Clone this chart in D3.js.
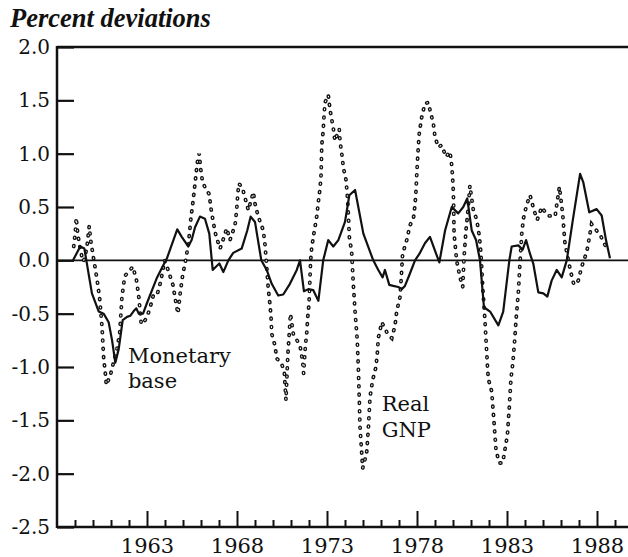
<!DOCTYPE html>
<html>
<head>
<meta charset="utf-8">
<script src="https://cdn.jsdelivr.net/npm/d3@7"></script>
<style>
  body { margin: 0; background: #fff; }
  text { font-family: "DejaVu Serif", serif; fill: #111; }
</style>
</head>
<body>
<div id="chart"></div>
<script>
// Monetary base (solid line), percent deviations
var mbYears = [1958.89, 1959.29, 1959.52, 1959.63, 1959.94, 1960.32, 1960.59, 1960.87, 1961.06, 1961.24,
    1961.43, 1961.52, 1961.65, 1961.89, 1962.07, 1962.29, 1962.41, 1962.54, 1962.78, 1963.0,
    1963.28, 1963.56, 1963.89, 1964.11, 1964.68, 1964.93, 1965.29, 1965.48, 1965.67, 1965.94,
    1966.22, 1966.46, 1966.65, 1966.83, 1967.02, 1967.24, 1967.52, 1967.79, 1968.26, 1968.57,
    1968.76, 1969.0, 1969.35, 1969.65, 1969.93, 1970.29, 1970.57, 1970.94, 1971.32, 1971.5,
    1971.72, 1971.96, 1972.24, 1972.52, 1972.79, 1973.07, 1973.35, 1973.63, 1974.0, 1974.24,
    1974.56, 1975.02, 1975.57, 1975.85, 1976.09, 1976.22, 1976.46, 1976.68, 1976.96, 1977.15,
    1977.33, 1977.57, 1977.89, 1978.13, 1978.44, 1978.72, 1979.24, 1979.56, 1979.93, 1980.29,
    1980.57, 1980.79, 1981.04, 1981.28, 1981.5, 1981.72, 1982.06, 1982.52, 1982.79, 1983.13,
    1983.26, 1983.63, 1983.87, 1984.06, 1984.28, 1984.46, 1984.74, 1985.02, 1985.24, 1985.48,
    1985.76, 1986.04, 1986.32, 1986.65, 1987.06, 1987.24, 1987.57, 1987.98, 1988.26, 1988.5,
    1988.72];
var mbValues = [0.0, 0.13, 0.11, 0.0, -0.31, -0.48, -0.5, -0.58, -0.75, -0.96,
    -0.83, -0.72, -0.56, -0.53, -0.52, -0.47, -0.45, -0.5, -0.5, -0.4,
    -0.28, -0.16, -0.05, 0.02, 0.29, 0.22, 0.13, 0.19, 0.31, 0.41,
    0.39, 0.25, -0.09, -0.06, -0.03, -0.11, 0.0, 0.07, 0.11, 0.28,
    0.41, 0.36, 0.0, -0.09, -0.22, -0.33, -0.32, -0.22, -0.09, 0.0,
    -0.29, -0.27, -0.28, -0.38, 0.0, 0.19, 0.13, 0.19, 0.36, 0.61,
    0.66, 0.25, 0.0, -0.09, -0.16, -0.09, -0.23, -0.24, -0.25, -0.27,
    -0.24, -0.14, 0.0, 0.06, 0.16, 0.22, -0.02, 0.28, 0.5, 0.44,
    0.5, 0.58, 0.28, 0.19, 0.0, -0.44, -0.48, -0.61, -0.48, 0.0,
    0.13, 0.14, 0.1, 0.19, 0.06, -0.03, -0.3, -0.31, -0.34, -0.19,
    -0.09, -0.16, 0.0, 0.37, 0.81, 0.73, 0.45, 0.48, 0.42, 0.19,
    0.02];

// Real GNP (dotted line), percent deviations
var gnpYears = [1958.93, 1959.02, 1959.07, 1959.15, 1959.3, 1959.44, 1959.55, 1959.68, 1959.79, 1959.88,
    1960.0, 1960.13, 1960.26, 1960.37, 1960.5, 1960.59, 1960.68, 1960.74, 1960.96, 1961.15,
    1961.33, 1961.48, 1961.55, 1961.61, 1961.76, 1962.0, 1962.22, 1962.42, 1962.55, 1962.68,
    1962.9, 1963.13, 1963.35, 1963.55, 1963.76, 1963.98, 1964.17, 1964.44, 1964.58, 1964.72,
    1964.85, 1964.98, 1965.11, 1965.3, 1965.43, 1965.54, 1965.63, 1965.72, 1965.8, 1965.9,
    1965.98, 1966.09, 1966.3, 1966.46, 1966.54, 1966.68, 1966.83, 1967.06, 1967.24, 1967.43,
    1967.61, 1967.89, 1967.98, 1968.03, 1968.1, 1968.3, 1968.44, 1968.63, 1968.91, 1969.0,
    1969.18, 1969.46, 1969.56, 1969.65, 1969.74, 1969.83, 1969.89, 1969.93, 1970.11, 1970.21,
    1970.48, 1970.63, 1970.67, 1970.72, 1970.82, 1970.9, 1970.97, 1971.13, 1971.5, 1971.65,
    1971.7, 1971.8, 1971.87, 1971.93, 1972.0, 1972.09, 1972.15, 1972.29, 1972.43, 1972.52,
    1972.61, 1972.67, 1972.71, 1972.79, 1972.83, 1972.89, 1973.07, 1973.17, 1973.35, 1973.44,
    1973.68, 1973.72, 1973.82, 1973.91, 1974.06, 1974.15, 1974.2, 1974.24, 1974.37, 1974.46,
    1974.56, 1974.68, 1974.74, 1974.79, 1974.83, 1974.93, 1974.98, 1975.2, 1975.3, 1975.39,
    1975.54, 1975.72, 1975.8, 1975.85, 1976.04, 1976.4, 1976.6, 1976.78, 1976.87, 1977.06,
    1977.15, 1977.2, 1977.43, 1977.61, 1977.8, 1977.89, 1977.94, 1977.98, 1978.02, 1978.07,
    1978.13, 1978.26, 1978.44, 1978.63, 1978.72, 1978.91, 1979.0, 1979.18, 1979.37, 1979.61,
    1979.83, 1979.93, 1979.98, 1980.02, 1980.04, 1980.06, 1980.2, 1980.39, 1980.54, 1980.61,
    1980.72, 1980.85, 1980.94, 1981.13, 1981.32, 1981.46, 1981.54, 1981.59, 1981.65, 1981.72,
    1981.78, 1981.91, 1981.96, 1982.15, 1982.28, 1982.39, 1982.57, 1982.76, 1983.02, 1983.13,
    1983.22, 1983.32, 1983.44, 1983.5, 1983.63, 1983.72, 1983.82, 1983.91, 1984.09, 1984.28,
    1984.5, 1984.68, 1984.93, 1985.24, 1985.67, 1985.91, 1986.09, 1986.22, 1986.54, 1986.72,
    1986.96, 1987.15, 1987.43, 1987.57, 1987.7, 1988.2, 1988.54];
var gnpValues = [0.13, 0.27, 0.4, 0.25, 0.1, -0.01, 0.02, 0.15, 0.32, 0.18,
    0.05, -0.08, -0.22, -0.36, -0.62, -0.91, -1.05, -1.17, -1.08, -0.95,
    -0.83, -0.69, -0.5, -0.34, -0.15, -0.1, -0.06, -0.19, -0.35, -0.6,
    -0.56, -0.47, -0.33, -0.33, -0.2, 0.0, -0.09, -0.23, -0.37, -0.5,
    -0.3, -0.14, -0.03, 0.15, 0.38, 0.53, 0.66, 0.8, 0.92, 1.0,
    0.86, 0.73, 0.66, 0.62, 0.5, 0.36, 0.23, 0.11, 0.2, 0.3,
    0.19, 0.33, 0.47, 0.59, 0.72, 0.68, 0.59, 0.47, 0.64, 0.53,
    0.41, 0.28, 0.14, -0.06, -0.27, -0.41, -0.53, -0.69, -0.8, -0.92,
    -0.97, -1.05, -1.17, -1.31, -0.9, -0.69, -0.5, -0.69, -0.8, -0.95,
    -1.06, -0.8, -0.69, -0.53, -0.41, 0.0, 0.12, 0.27, 0.41, 0.55,
    0.67, 0.8, 1.08, 1.22, 1.34, 1.48, 1.55, 1.41, 1.24, 1.12,
    1.23, 1.12, 1.0, 0.87, 0.75, 0.56, 0.38, 0.22, 0.08, -0.22,
    -0.48, -0.75, -1.0, -1.28, -1.55, -1.81, -1.95, -1.81, -1.57, -1.28,
    -1.12, -1.0, -0.86, -0.73, -0.58, -0.7, -0.73, -0.61, -0.48, -0.34,
    -0.09, 0.06, 0.19, 0.33, 0.39, 0.52, 0.64, 0.78, 0.91, 1.06,
    1.2, 1.34, 1.47, 1.48, 1.41, 1.28, 1.16, 1.06, 1.08, 0.97,
    1.02, 0.89, 0.77, 0.64, 0.47, 0.25, 0.0, -0.16, -0.25, 0.02,
    0.28, 0.5, 0.7, 0.47, 0.38, 0.23, 0.09, -0.05, -0.25, -0.42,
    -0.58, -0.98, -1.11, -1.23, -1.52, -1.78, -1.9, -1.9, -1.64, -1.37,
    -1.11, -0.97, -0.72, -0.56, -0.3, -0.03, 0.25, 0.39, 0.52, 0.61,
    0.47, 0.38, 0.5, 0.42, 0.41, 0.69, 0.44, 0.16, -0.11, -0.23,
    -0.19, -0.06, 0.08, 0.21, 0.34, 0.23, 0.11];

var yTicks = [-2.5, -2.0, -1.5, -1.0, -0.5, 0.0, 0.5, 1.0, 1.5, 2.0];
var yearTicks = d3.range(1959, 1990);
var labelYears = [1963, 1968, 1973, 1978, 1983, 1988];

var W = 628, H = 557;
var plot = {left: 57, right: 628, top: 47, bottom: 527};

var scalex = d3.scaleLinear().domain([1958, 1958 + (plot.right - plot.left) / 18]).range([plot.left, plot.right]);
var scaley = d3.scaleLinear().domain([-2.5, 2.0]).range([plot.bottom, plot.top]);

var svg = d3.select("#chart").append("svg")
    .attr("width", W)
    .attr("height", H)
    .style("background", "#fff");

// title
svg.append("text")
    .attr("x", 10)
    .attr("y", 27)
    .style("font-family", "'Liberation Serif', serif")
    .style("font-weight", "bold")
    .style("font-style", "italic")
    .style("font-size", "26.5px")
    .text("Percent deviations");

// y axis ticks and labels (ticks point inward)
var yAxis = svg.append("g")
    .attr("transform", "translate(" + plot.left + ",0)")
    .call(d3.axisLeft(scaley)
        .tickValues(yTicks)
        .tickSize(-17)
        .tickSizeOuter(0)
        .tickPadding(7)
        .tickFormat(function (d) { return d.toFixed(1); }));
yAxis.select(".domain").remove();
yAxis.selectAll("line").attr("stroke", "#111").attr("stroke-width", 2.2);
yAxis.selectAll("text").style("font-size", "20px").attr("fill", "#111");

// x axis: minor year ticks, taller ticks every 5 years
var xMinor = svg.append("g")
    .attr("transform", "translate(0," + plot.bottom + ")")
    .call(d3.axisBottom(scalex)
        .tickValues(yearTicks.filter(function (d) { return labelYears.indexOf(d) < 0; }))
        .tickSize(-7)
        .tickSizeOuter(0)
        .tickFormat(""));
xMinor.select(".domain").remove();
xMinor.selectAll("line").attr("stroke", "#111").attr("stroke-width", 2);

var xMajor = svg.append("g")
    .attr("transform", "translate(0," + plot.bottom + ")")
    .call(d3.axisBottom(scalex)
        .tickValues(labelYears)
        .tickSize(-16)
        .tickSizeOuter(0)
        .tickFormat(d3.format("d")));
xMajor.select(".domain").remove();
xMajor.selectAll("line").attr("stroke", "#111").attr("stroke-width", 2);
xMajor.selectAll("text")
    .attr("y", 26)
    .attr("dy", 0)
    .style("font-size", "21px")
    .attr("fill", "#111");

// frame lines: left axis, top line, bottom axis, zero line
svg.append("line")
    .attr("x1", plot.left).attr("x2", plot.left)
    .attr("y1", scaley(2.0) - 1).attr("y2", scaley(-2.5) + 1)
    .attr("stroke", "#111").attr("stroke-width", 2.5);
svg.append("line")
    .attr("x1", plot.left).attr("x2", plot.right)
    .attr("y1", scaley(2.0)).attr("y2", scaley(2.0))
    .attr("stroke", "#111").attr("stroke-width", 2.5);
svg.append("line")
    .attr("x1", plot.left).attr("x2", plot.right)
    .attr("y1", scaley(-2.5)).attr("y2", scaley(-2.5))
    .attr("stroke", "#111").attr("stroke-width", 2.5);
svg.append("line")
    .attr("x1", plot.left).attr("x2", plot.right)
    .attr("y1", scaley(0)).attr("y2", scaley(0))
    .attr("stroke", "#111").attr("stroke-width", 1.6);

var mbData = mbYears.map(function (t, i) { return {t: t, v: mbValues[i]}; });
var gnpData = gnpYears.map(function (t, i) { return {t: t, v: gnpValues[i]}; });

var valueline = d3.line()
    .x(function (d) { return scalex(d.t); })
    .y(function (d) { return scaley(d.v); });

// Real GNP: small hollow dots along the path
svg.append("path")
    .datum(gnpData)
    .attr("d", valueline)
    .attr("fill", "none")
    .attr("stroke", "#111")
    .attr("stroke-width", 3.8)
    .attr("stroke-linecap", "round")
    .attr("stroke-dasharray", "0.8 7.5");
svg.append("path")
    .datum(gnpData)
    .attr("d", valueline)
    .attr("fill", "none")
    .attr("stroke", "#fff")
    .attr("stroke-width", 1.1)
    .attr("stroke-linecap", "round")
    .attr("stroke-dasharray", "0.8 7.5");

// Monetary base: solid line
svg.append("path")
    .datum(mbData)
    .attr("d", valueline)
    .attr("fill", "none")
    .attr("stroke", "#111")
    .attr("stroke-width", 2.2)
    .attr("stroke-linejoin", "round");

// series labels
var labels = [
    {text: "Monetary", t: 1961.94, v: -0.96},
    {text: "base", t: 1961.94, v: -1.2},
    {text: "Real", t: 1976.04, v: -1.41},
    {text: "GNP", t: 1976.04, v: -1.66}
];
svg.selectAll(".serieslabel")
    .data(labels)
    .enter().append("text")
    .attr("class", "serieslabel")
    .attr("x", function (d) { return scalex(d.t); })
    .attr("y", function (d) { return scaley(d.v); })
    .style("font-size", "21px")
    .text(function (d) { return d.text; });
</script>
</body>
</html>
